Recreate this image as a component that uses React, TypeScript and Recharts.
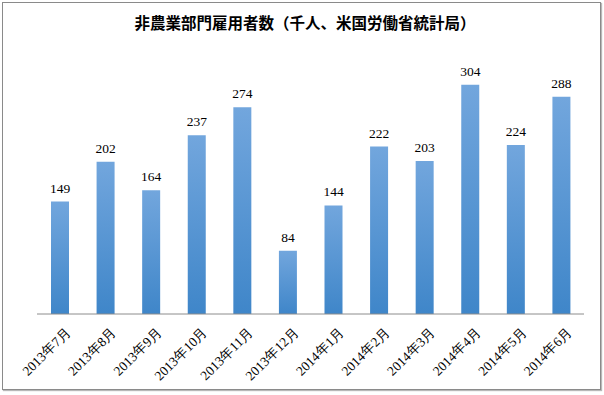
import { Bar, BarChart, LabelList, XAxis, YAxis } from "recharts"

const months = [
  "2013年7月", "2013年8月", "2013年9月", "2013年10月", "2013年11月", "2013年12月",
  "2014年1月", "2014年2月", "2014年3月", "2014年4月", "2014年5月", "2014年6月",
]
const jobs = [149, 202, 164, 237, 274, 84, 144, 222, 203, 304, 224, 288]

const data = months.map((month, i) => ({ month, jobs: jobs[i] }))

const serif = "'Liberation Serif', 'DejaVu Serif', serif"

// rotated month labels, anchored at their end under each bar
const MonthTick = ({ x, y, payload }: any) => (
  <g transform={`translate(${x + 9},${y + 8})`}>
    <text
      transform="rotate(-45)"
      textAnchor="end"
      fontFamily={serif}
      fontSize={13.5}
      fill="#000"
      dy={4}
    >
      {payload.value}
    </text>
  </g>
)

export default function App() {
  return (
    <div style={{ position: "absolute", left: 0, top: 0, width: 604, height: 395, background: "#fff" }}>
      <div
        style={{
          position: "absolute",
          left: 2,
          top: 2,
          width: 597,
          height: 386,
          border: "1px solid #8a8a8a",
          boxShadow: "1px 1px 1px #b8b8b8",
        }}
      />
      <div
        style={{
          position: "absolute",
          left: 0,
          top: 11,
          width: 610,
          textAlign: "center",
          fontFamily: "'Noto Sans CJK JP', sans-serif",
          fontWeight: "bold",
          fontSize: 15.5,
          color: "#000",
        }}
      >
        非農業部門雇用者数（千人、米国労働省統計局）
      </div>
      <BarChart
        width={604}
        height={395}
        data={data}
        margin={{ top: 50, right: 20, bottom: 5, left: 37 }}
        style={{ position: "absolute", left: 0, top: 0 }}
      >
        <defs>
          <linearGradient id="barFill" x1="0" y1="0" x2="0" y2="1">
            <stop offset="0%" stopColor="#72a6dd" />
            <stop offset="100%" stopColor="#3f86c9" />
          </linearGradient>
        </defs>
        <XAxis
          dataKey="month"
          height={76}
          interval={0}
          tickLine={false}
          axisLine={{ stroke: "#8c8c8c" }}
          tick={<MonthTick />}
        />
        <YAxis hide domain={[0, 350]} />
        <Bar dataKey="jobs" fill="url(#barFill)" barSize={18} isAnimationActive={false}>
          <LabelList
            dataKey="jobs"
            position="top"
            offset={9}
            fontFamily={serif}
            fontSize={13.5}
            fill="#000"
          />
        </Bar>
      </BarChart>
    </div>
  )
}
